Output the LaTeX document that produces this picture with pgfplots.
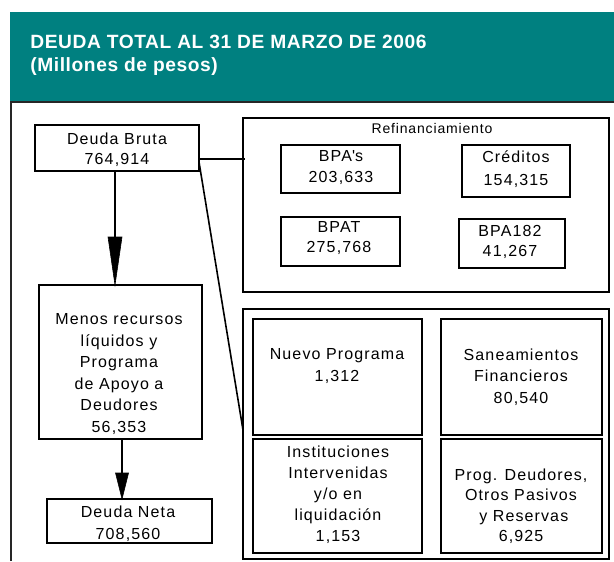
\documentclass[border=0pt]{standalone}
\usepackage{pgfplots}
\pgfplotsset{compat=1.18}
\usepackage{fontspec}
\setmainfont{Liberation Sans}[LetterSpace=7]
\newfontfamily\titlefont{Liberation Sans}[LetterSpace=3]
\newfontfamily\smallfont{Liberation Sans}[LetterSpace=6]
\definecolor{headteal}{RGB}{0,128,128}
\tikzset{bx/.style={inner sep=0pt, align=center}}
\begin{document}
\begin{tikzpicture}
\begin{axis}[
  x=0.5pt, y=0.5pt,
  xmin=0, xmax=614, ymin=0, ymax=561,
  y dir=reverse,
  hide axis, clip=false,
]
% header band
\addplot[fill=headteal, draw=none] coordinates {(10,12) (614,12) (614,102) (10,102)} -- cycle;
% outer frame
\addplot[black!85, line width=1pt] coordinates {(11,561) (11,102.5) (614,102.5)};
% Deuda Bruta
\addplot[black, line width=0.8pt] coordinates {(35,125) (199,125) (199,171) (35,171)} -- cycle;
% arrow 1
\addplot[black, line width=0.8pt] coordinates {(115,171) (115,240)};
\addplot[fill=black, draw=black, line width=0.3pt] coordinates {(108,237) (122,237) (115,285)} -- cycle;
% Menos recursos
\addplot[black, line width=0.8pt] coordinates {(39,285) (202,285) (202,439) (39,439)} -- cycle;
% arrow 2
\addplot[black, line width=0.8pt] coordinates {(122,439) (122,476)};
\addplot[fill=black, draw=black, line width=0.3pt] coordinates {(115.5,473) (128.5,473) (122,499)} -- cycle;
% Deuda Neta
\addplot[black, line width=0.8pt] coordinates {(47,499) (212,499) (212,543) (47,543)} -- cycle;
% connectors
\addplot[black, line width=0.8pt] coordinates {(199,159) (245,159)};
\addplot[black, line width=0.8pt] coordinates {(199,162) (243,430)};
% Refinanciamiento frame
\addplot[black, line width=0.8pt] coordinates {(243,118) (609,118) (609,292) (243,292)} -- cycle;
\addplot[black, line width=0.8pt] coordinates {(281,145) (400,145) (400,193) (281,193)} -- cycle;
\addplot[black, line width=0.8pt] coordinates {(462,145) (570,145) (570,197) (462,197)} -- cycle;
\addplot[black, line width=0.8pt] coordinates {(281,217) (400,217) (400,266) (281,266)} -- cycle;
\addplot[black, line width=0.8pt] coordinates {(459,219) (565,219) (565,268) (459,268)} -- cycle;
% lower right frame
\addplot[black, line width=0.8pt] coordinates {(243,309) (609,309) (609,559) (243,559)} -- cycle;
\addplot[black, line width=0.8pt] coordinates {(253,319) (422,319) (422,435) (253,435)} -- cycle;
\addplot[black, line width=0.8pt] coordinates {(441,319) (602,319) (602,435) (441,435)} -- cycle;
\addplot[black, line width=0.8pt] coordinates {(253,439) (422,439) (422,553) (253,553)} -- cycle;
\addplot[black, line width=0.8pt] coordinates {(441,439) (602,439) (602,553) (441,553)} -- cycle;

% title
\node[bx, anchor=west, align=left, text=white, font=\titlefont\bfseries\fontsize{9.6}{11.5}\selectfont] at (axis cs:30,55) {DEUDA TOTAL AL 31 DE MARZO DE 2006\\(Millones de pesos)};

% texts
\node[bx, font=\fontsize{8}{10}\selectfont] at (axis cs:117,150) {Deuda Bruta\\764,914};
\node[bx, font=\fontsize{8}{10.75}\selectfont] at (axis cs:119,374) {Menos recursos\\líquidos y\\Programa\\de Apoyo a\\Deudores\\56,353};
\node[bx, font=\fontsize{8}{11}\selectfont] at (axis cs:128,524) {Deuda Neta\\708,560};
\node[bx, font=\smallfont\fontsize{7}{8.5}\selectfont] at (axis cs:432,128) {Refinanciamiento};
\node[bx, font=\fontsize{8}{10.5}\selectfont] at (axis cs:341,168) {BPA\textquotesingle s\\203,633};
\node[bx, font=\fontsize{8}{11.5}\selectfont] at (axis cs:516,169) {Créditos\\154,315};
\node[bx, font=\fontsize{8}{10}\selectfont] at (axis cs:339,238) {BPAT\\275,768};
\node[bx, font=\fontsize{8}{10}\selectfont] at (axis cs:510,242) {BPA182\\41,267};
\node[bx, font=\fontsize{8}{11}\selectfont] at (axis cs:337,366) {Nuevo Programa\\1,312};
\node[bx, font=\fontsize{8}{10.75}\selectfont] at (axis cs:521,377) {Saneamientos\\Financieros\\80,540};
\node[bx, font=\fontsize{8}{10.5}\selectfont] at (axis cs:338,495) {Instituciones\\Intervenidas\\y/o en\\liquidación\\1,153};
\node[bx, font=\fontsize{8}{10.25}\selectfont] at (axis cs:521,506) {Prog. Deudores,\\Otros Pasivos\\\ y Reservas\\6,925};
\coordinate (bbsw) at (axis cs:0,561);
\coordinate (bbne) at (axis cs:614,0);
\end{axis}
\pgfresetboundingbox
\useasboundingbox (bbsw) rectangle (bbne);
\end{tikzpicture}
\end{document}
